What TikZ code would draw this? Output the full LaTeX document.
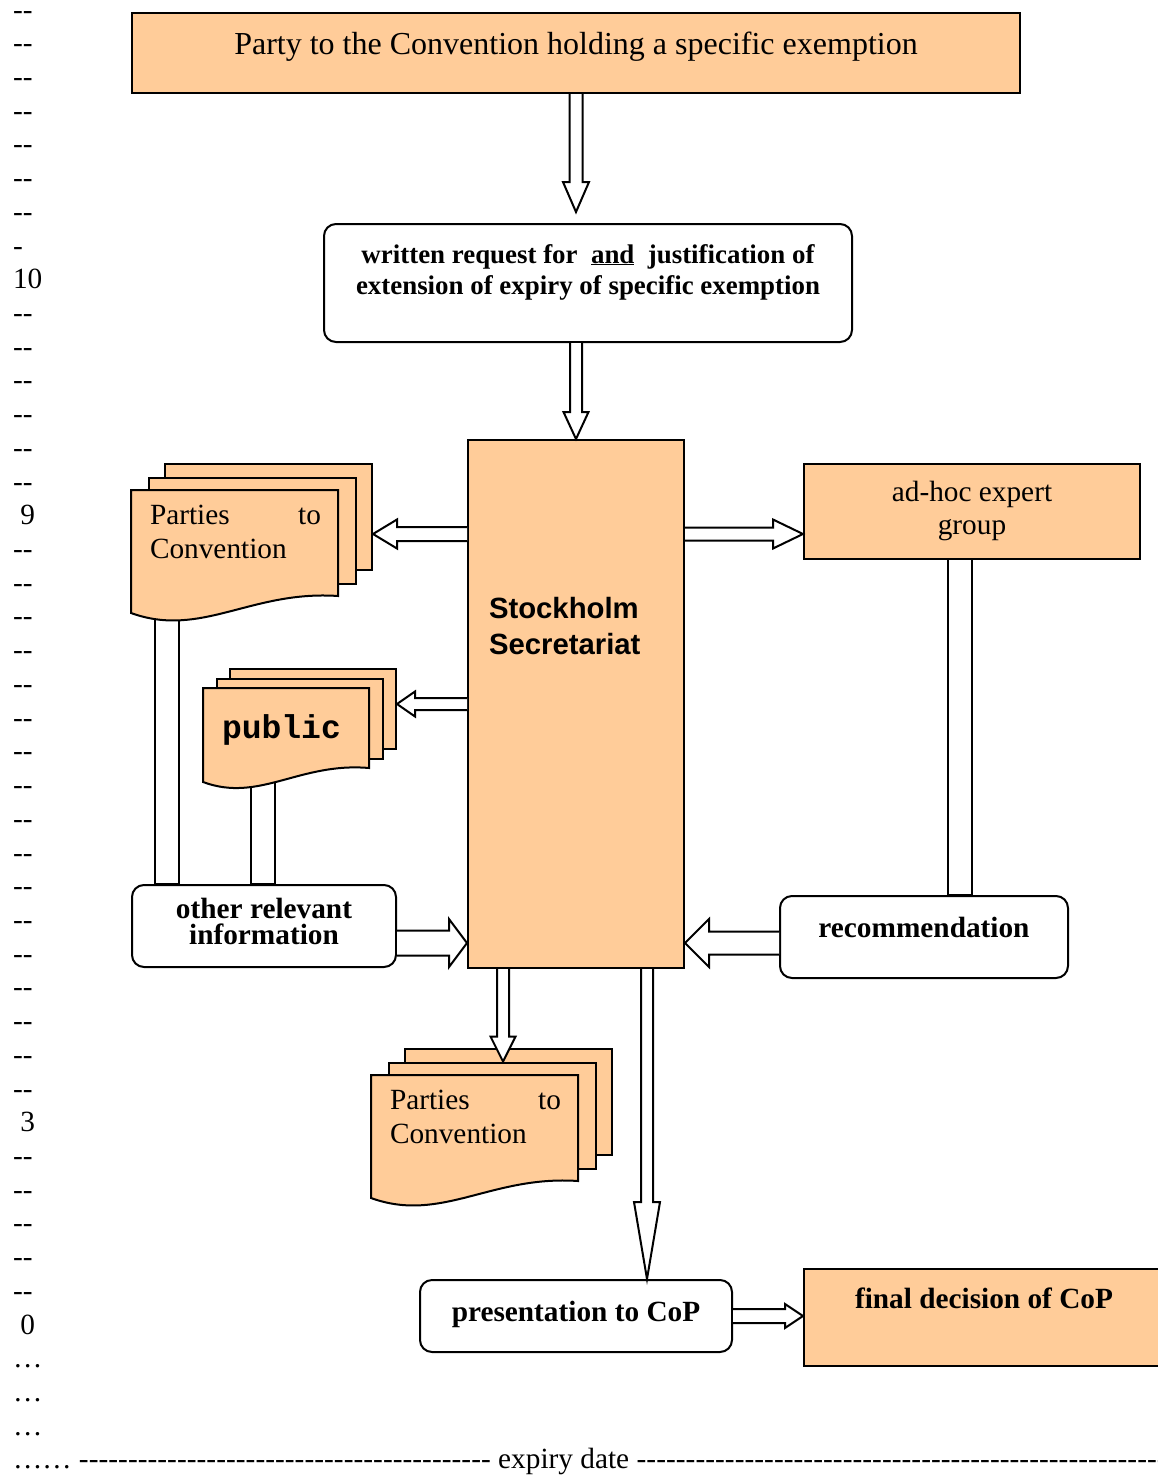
\documentclass[tikz,border=0pt]{standalone}
\usepackage{fontspec}
\setmainfont{Liberation Serif}
\setsansfont{Liberation Sans}
\setmonofont{Liberation Mono}
\usetikzlibrary{calc}
\definecolor{peach}{HTML}{FFCC99}
\pgfdeclarelayer{background}
\pgfsetlayers{background,main}

\newcommand{\dd}{-{}-}
\newcommand{\dashfill}[1]{\hbox to #1{\xleaders\hbox{-}\hfill}}
% hollow block arrow: from, to, half shaft, half head, head length
\newcommand{\blockarrow}[5]{%
  \coordinate (ba-h) at ($(#2)!#5!(#1)$);
  \filldraw[hollow] ($(#1)!#3!90:(#2)$) -- ($(ba-h)!#3!90:(#2)$) -- ($(ba-h)!#4!90:(#2)$)
    -- (#2) -- ($(ba-h)!#4!-90:(#2)$) -- ($(ba-h)!#3!-90:(#2)$) -- ($(#1)!#3!-90:(#2)$);}
% hollow bar without head: from, to, half width
\newcommand{\blockbar}[3]{%
  \filldraw[hollow] ($(#1)!#3!90:(#2)$) -- ($(#2)!#3!-90:(#1)$) -- ($(#2)!#3!90:(#1)$) -- ($(#1)!#3!-90:(#2)$);}
% stack of pages: name, x, y, width, right height, drop, step x, step y
\newcommand{\docstack}[8]{%
  \foreach \k in {2,1}
    \node[docpage, minimum width=#4pt, minimum height=#5pt] (#1-\k) at (#2+\k*#7,#3-\k*#8) {};
  \filldraw[docpage] (#2,#3) -- (#2+#4,#3) -- (#2+#4,#3+#5)
    .. controls (#2+0.58*#4,#3+#5-6) and (#2+0.34*#4,#3+#5+2.5*#6) .. (#2,#3+#5+#6) -- cycle;}

\begin{document}
\begin{tikzpicture}[x=1pt, y=-1pt, line width=2pt]
    \tikzstyle{box}=[draw, inner sep=0pt, anchor=north west, font=\fontsize{29.3}{33.7}\selectfont]
    \tikzstyle{peach box}=[box, fill=peach]
    \tikzstyle{round box}=[box, fill=white, rounded corners=12pt, font=\fontsize{29.3}{33.7}\selectfont\bfseries]
    \tikzstyle{docpage}=[draw, fill=peach, inner sep=0pt, anchor=north west]
    \tikzstyle{doctext}=[inner xsep=18pt, inner ysep=0pt, anchor=north west, font=\fontsize{29.3}{34}\selectfont]
    \tikzstyle{hollow}=[draw, fill=white, line width=2pt, line join=miter]
    \tikzstyle{margin}=[anchor=base west, inner sep=0pt, font=\fontsize{29.3}{33.7}\selectfont]
    \useasboundingbox (0,0) rectangle (1157,1475);
    % Draw the line numbers on the left
    \foreach \t [count=\i from 0] in {\dd,\dd,\dd,\dd,\dd,\dd,\dd,-,10,\dd,\dd,\dd,\dd,\dd,\dd,\ 9,
        \dd,\dd,\dd,\dd,\dd,\dd,\dd,\dd,\dd,\dd,\dd,\dd,\dd,\dd,\dd,\dd,\dd,\ 3,
        \dd,\dd,\dd,\dd,\dd,\ 0,…,…,…}
        \node[margin] (m-\i) at (12,19+33.72*\i) {\t};
    \node[margin] (expiry) at (12,19+33.72*43) {……\ \dashfill{412pt}\ expiry date\ \dashfill{540pt}};
    % Draw the boxes
    \node[peach box, minimum width=888pt, text height=41pt, text depth=39pt,
        font=\fontsize{32}{36}\selectfont] (party) at (131,12)
        {Party to the Convention holding a specific exemption};
    \node[round box, minimum width=528pt, text height=39pt, text depth=79pt,
        font=\fontsize{26.9}{31}\selectfont\bfseries] (req) at (323,223)
        {\parbox[t]{528pt}{\centering written request for\ \ \underline{and}\ \ justification of\\extension of expiry of specific exemption}};
    \node[peach box, minimum width=216pt, text height=178pt, text depth=350pt,
        font=\fontsize{29.3}{36}\selectfont\sffamily\bfseries] (secr) at (467,439)
        {\parbox[t]{174pt}{\raggedright Stockholm\\Secretariat}};
    \node[peach box, minimum width=336pt, text height=37pt, text depth=58pt] (adhoc) at (803,463)
        {\parbox[t]{336pt}{\centering ad-hoc expert\\group}};
    \node[round box, minimum width=264pt, text height=33pt, text depth=49pt,
        font=\fontsize{29.3}{26}\selectfont\bfseries] (other) at (131,884)
        {\parbox[t]{264pt}{\centering other relevant\\information}};
    \node[round box, minimum width=288pt, text height=41pt, text depth=41pt] (rec) at (779,895) {recommendation};
    \node[round box, minimum width=312pt, text height=41pt, text depth=31pt] (pres) at (419,1279) {presentation to CoP};
    \node[peach box, minimum width=360pt, text height=39pt, text depth=58pt,
        font=\fontsize{29.3}{33.7}\selectfont\bfseries] (final) at (803,1268) {final decision of CoP};
    % Draw the document stacks
    \docstack{pa}{131}{490}{207}{106}{17}{16.5}{13.5}
    \node[doctext, text height=33pt, text depth=73pt] (pa) at (131,490)
        {\parbox[t]{171pt}{Parties\hfill to\\Convention}};
    \docstack{pub}{203}{688}{166}{80}{14}{13}{10}
    \node[doctext, text height=49pt, text depth=31pt, font=\fontsize{33}{38}\selectfont\ttfamily\bfseries] (pub) at (203,688)
        {\parbox[t]{130pt}{public}};
    \docstack{pb}{371}{1075}{207}{106}{17}{16.5}{13.5}
    \node[doctext, text height=33pt, text depth=73pt] (pb) at (371,1075)
        {\parbox[t]{171pt}{Parties\hfill to\\Convention}};
    % Connect the boxes
    \coordinate (ya) at (0,534);
    \coordinate (yb) at (0,704);
    \coordinate (yc) at (0,943);
    \coordinate (xa) at (503,0);
    \coordinate (xb) at (647,0);
    \coordinate (t1) at ($(party.south |- req.north)+(0,-11)$);
    \blockarrow{party.south}{t1}{6.5pt}{13pt}{30pt}
    \blockarrow{req.south -| secr.north}{secr.north}{6pt}{12.5pt}{27pt}
    \blockarrow{secr.west |- ya}{pa-2.east |- ya}{7pt}{14.5pt}{24pt}
    \blockarrow{secr.east |- ya}{adhoc.west |- ya}{6.5pt}{14.5pt}{30pt}
    \blockarrow{secr.west |- yb}{pub-2.east |- yb}{6pt}{12.5pt}{18pt}
    \blockarrow{other.east |- yc}{secr.west |- yc}{12.5pt}{24pt}{18pt}
    \blockarrow{rec.west |- yc}{secr.east |- yc}{11.5pt}{24pt}{24pt}
    \blockarrow{secr.south -| xa}{pb-1.north -| xa}{6pt}{12.5pt}{25pt}
    \blockarrow{secr.south -| xb}{pres.north -| xb}{6pt}{13pt}{77pt}
    \blockarrow{pres.east}{final.west |- pres.east}{7pt}{12pt}{18pt}
    % Bars behind the documents
    \coordinate (b1) at ($(pa.south west)+(36,0)$);
    \coordinate (b2) at ($(pub.south west)+(60,0)$);
    \coordinate (b3) at ($(adhoc.south)+(-12,0)$);
    \begin{pgfonlayer}{background}
        \blockbar{b1}{b1 |- other.north}{12pt}
        \blockbar{b2}{b2 |- other.north}{12pt}
        \blockbar{b3}{b3 |- rec.north}{12pt}
    \end{pgfonlayer}
\end{tikzpicture}
\end{document}
